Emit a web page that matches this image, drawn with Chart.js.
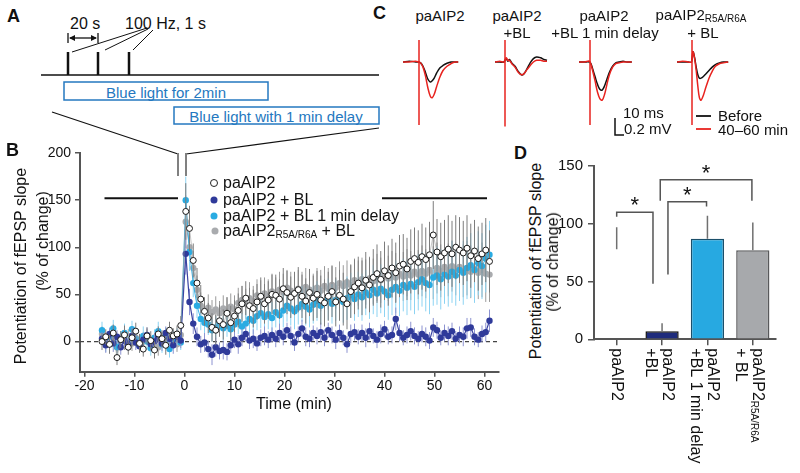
<!DOCTYPE html>
<html>
<head>
<meta charset="utf-8">
<script src="https://cdn.jsdelivr.net/npm/chart.js"></script>
<style>
  body { margin: 0; width: 800px; height: 473px; position: relative; overflow: hidden; background: #fff;
         font-family: "Liberation Sans", Arial, sans-serif; color: #111; }
  canvas, svg { position: absolute; }
  .t { position: absolute; line-height: 1; white-space: nowrap; transform: translateY(-50%); }
  .c { position: absolute; line-height: 1; white-space: nowrap; transform: translate(-50%, -50%); }
  .rot { position: absolute; line-height: 1; white-space: nowrap; transform: translate(-50%, -50%) rotate(-90deg); font-size: 16px; }
  .lt { font-weight: bold; font-size: 18px; }
  .blue { color: #2478c0; font-size: 15px; }
  sub { font-size: 10px; vertical-align: -2px; }
  .dot { position: absolute; width: 7px; height: 7px; border-radius: 50%; transform: translate(-50%, -50%); }
</style>
</head>
<body>

<svg width="800" height="473" style="left:0;top:0">
  <g stroke="#111" fill="none" stroke-width="1.3">
    <line x1="41" y1="75" x2="379" y2="75"/>
    <line x1="68" y1="52" x2="68" y2="75" stroke-width="2.5"/>
    <line x1="98" y1="52" x2="98" y2="75" stroke-width="2.5"/>
    <line x1="129" y1="52" x2="129" y2="75" stroke-width="2.5"/>
    <line x1="68" y1="33" x2="68" y2="43"/>
    <line x1="98" y1="33" x2="98" y2="43"/>
    <line x1="70" y1="38" x2="96" y2="38"/>
    <line x1="72" y1="52" x2="147" y2="28" stroke-width="1"/>
    <line x1="105" y1="50" x2="148" y2="29" stroke-width="1"/>
    <line x1="133" y1="50" x2="153" y2="30" stroke-width="1"/>
    <line x1="52" y1="112" x2="178" y2="154" stroke-width="1.2"/>
    <line x1="379" y1="128" x2="186" y2="154" stroke-width="1.2"/>
    <path d="M615 118 V135 H624" stroke-width="1.5"/>
    <line x1="696" y1="116" x2="711" y2="116" stroke-width="1.8"/>
    <line x1="696" y1="129" x2="711" y2="129" stroke="#e8231f" stroke-width="1.8"/>
  </g>
  <polygon points="69,38 75,35 75,41" fill="#111"/>
  <polygon points="97,38 91,35 91,41" fill="#111"/>
  <g stroke="#808080" stroke-width="2">
    <line x1="178" y1="153" x2="178" y2="176"/>
    <line x1="186" y1="153" x2="186" y2="176"/>
  </g>
  <rect x="64" y="82" width="204" height="18" fill="none" stroke="#2478c0" stroke-width="1.5"/>
  <rect x="174" y="107" width="205" height="17" fill="none" stroke="#2478c0" stroke-width="1.5"/>
</svg>

<canvas id="chartB" width="510" height="280" style="left:0px;top:140px"></canvas>
<canvas id="chartD" width="245" height="333" style="left:555px;top:140px"></canvas>
<canvas id="trace1" width="75" height="100" style="left:403px;top:35px"></canvas>
<canvas id="trace2" width="75" height="100" style="left:495px;top:35px"></canvas>
<canvas id="trace3" width="75" height="100" style="left:579px;top:35px"></canvas>
<canvas id="trace4" width="75" height="100" style="left:677px;top:35px"></canvas>

<!-- panel letters -->
<div class="t lt" style="left:7px;top:16px">A</div>
<div class="t lt" style="left:6px;top:150px">B</div>
<div class="t lt" style="left:373px;top:13px">C</div>
<div class="t lt" style="left:514px;top:153px">D</div>

<!-- panel A -->
<div class="t" style="left:70px;top:24px;font-size:16px">20 s</div>
<div class="t" style="left:125px;top:24px;font-size:16px">100 Hz, 1 s</div>
<div class="c blue" style="left:166px;top:91.5px">Blue light for 2min</div>
<div class="c blue" style="left:276px;top:116px">Blue light with 1 min delay</div>

<!-- panel B -->
<div class="rot" style="left:21px;top:266px">Potentiation of fEPSP slope</div>
<div class="rot" style="left:43px;top:241px">(% of change)</div>
<div class="c" style="left:294px;top:404px;font-size:16px">Time (min)</div>
<div class="dot" style="left:214px;top:183px;background:#fff;border:1px solid #222;width:6px;height:6px"></div>
<div class="dot" style="left:214px;top:200px;background:#2f3a9a"></div>
<div class="dot" style="left:214px;top:216px;background:#29abe2"></div>
<div class="dot" style="left:215px;top:231px;background:#a9abae"></div>
<div class="t" style="left:223px;top:183px;font-size:16px">paAIP2</div>
<div class="t" style="left:223px;top:200px;font-size:16px">paAIP2 + BL</div>
<div class="t" style="left:223px;top:216px;font-size:16px">paAIP2 + BL 1 min delay</div>
<div class="t" style="left:223px;top:231px;font-size:16px">paAIP2<sub>R5A/R6A</sub> + BL</div>

<!-- panel C -->
<div class="c" style="left:440px;top:15px;font-size:15px">paAIP2</div>
<div class="c" style="left:517px;top:15px;font-size:15px">paAIP2</div>
<div class="c" style="left:517px;top:32px;font-size:15px">+BL</div>
<div class="c" style="left:604px;top:15px;font-size:15px">paAIP2</div>
<div class="c" style="left:605px;top:32px;font-size:15px">+BL 1 min delay</div>
<div class="c" style="left:701px;top:15px;font-size:15px">paAIP2<sub>R5A/R6A</sub></div>
<div class="c" style="left:703px;top:32px;font-size:15px">+ BL</div>
<div class="t" style="left:623px;top:112px;font-size:15px">10 ms</div>
<div class="t" style="left:624px;top:128px;font-size:15px">0.2 mV</div>
<div class="t" style="left:718px;top:115px;font-size:15px">Before</div>
<div class="t" style="left:718px;top:129px;font-size:15px">40–60 min</div>

<!-- panel D -->
<div class="rot" style="left:536px;top:261px">Potentiation of fEPSP slope</div>
<div class="rot" style="left:553px;top:262px">(% of change)</div>

<script>
// ---- panel B: time course (min) and potentiation (% of change) ----
const timeMin = [
  -16.5,-15.75,-15,-14.25,-13.5,-12.75,-12,-11.25,-10.5,-9.75,-9,-8.25,-7.5,-6.75,-6,-5.25,-4.5,-3.75,-3,-2.25,-1.5,-0.75,
  0.25,1,1.75,2.5,3.25,4,4.75,5.5,6.25,7,7.75,8.5,9.25,10,10.75,11.5,12.25,13,13.75,14.5,15.25,16,16.75,17.5,18.25,19,
  19.75,20.5,21.25,22,22.75,23.5,24.25,25,25.75,26.5,27.25,28,28.75,29.5,30.25,31,31.75,32.5,33.25,34,34.75,35.5,36.25,
  37,37.75,38.5,39.25,40,40.75,41.5,42.25,43,43.75,44.5,45.25,46,46.75,47.5,48.25,49,49.75,50.5,51.25,52,52.75,53.5,
  54.25,55,55.75,56.5,57.25,58,58.75,59.5,60.25,61
];

const potPaAIP2 = [
  0,5,-3,9,-17,2,7,-6,4,11, -2,-8,6,1,-9,8,3,-4,12,6, 8,17,
  138,120,86,62,45,32,25,15,12,22, 18,30,20,27,33,40,46,38,35,42,
  48,40,44,50,49,45,56,52,47,51, 55,48,43,52,46,50,44,41,48,53,
  42,49,45,40,53,58,62,57,65,60, 68,72,66,75,70,78,73,80,82,77,
  85,88,84,90,87,92,113,95,90,94, 98,93,100,97,94,99,91,96,88,93,
  97,85
];
const semPaAIP2 = [
  9,8,10,9,8,9,10,8,9,9, 10,8,9,10,9,8,9,10,9,8, 9,10,
  30,24,18,16,15,15,16,15,16,17, 16,17,18,17,18,19,18,19,20,19,
  20,21,20,21,22,21,22,23,22,23, 24,23,24,25,24,25,26,25,26,27,
  26,27,28,27,28,29,28,29,30,29, 30,31,30,31,32,31,32,33,32,33,
  34,33,34,35,34,35,36,35,36,35, 36,35,34,35,34,35,34,33,34,33,
  34,33
];

const potBL = [
  3,-4,8,-2,5,-6,1,-3,6,-1, -5,2,7,-3,0,4,-2,9,3,-4, 5,1,
  93,42,19,5,-3,-1,-8,-14,-6,-10, -9,-11,-4,2,-3,4,8,1,3,-2,
  4,6,2,7,3,9,5,12,6,-1, 8,14,5,3,9,6,10,4,12,7,
  2,9,4,-3,8,10,5,9,4,11, 6,2,8,13,5,7,24,9,4,7,
  11,6,3,8,5,1,15,12,4,9, 6,11,3,7,5,14,15,5,2,8,
  10,22
];
const semBL = [
  7,8,6,9,7,8,6,7,9,8, 6,7,8,7,9,6,8,7,8,9, 7,8,
  22,14,11,10,9,10,9,11,10,9, 10,9,8,9,10,9,8,9,10,8,
  9,10,9,8,9,10,9,8,10,9, 8,9,10,9,8,9,10,9,8,9,
  10,9,8,9,10,9,8,9,10,9, 8,9,10,9,8,9,12,9,8,9,
  10,9,8,9,10,9,10,9,8,9, 10,9,8,9,10,11,10,9,8,9,
  10,12
];

const potDelay = [
  12,-3,5,14,-6,2,9,-2,13,3, -4,6,0,-7,4,11,-3,7,-8,2, 5,-1,
  150,95,62,38,24,20,18,12,15,20, 14,17,13,18,21,16,19,24,22,27,
  30,26,29,25,31,28,33,38,35,32, 36,40,37,34,39,43,38,41,45,40,
  44,47,42,46,49,45,50,47,52,49, 55,51,56,53,49,55,58,54,60,57,
  61,58,63,66,62,60,68,70,66,71, 69,74,70,76,73,78,81,76,83,80,
  88,92
];
const semDelay = [
  9,8,10,9,8,9,10,8,9,9, 8,10,9,8,9,10,9,8,9,10, 9,8,
  25,20,15,13,12,12,11,12,12,13, 13,12,13,14,13,14,14,15,14,15,
  16,15,16,17,16,17,18,17,18,19, 18,19,20,19,20,21,20,21,22,21,
  22,23,22,23,24,23,24,25,24,25, 26,25,26,27,26,27,28,27,28,29,
  28,29,30,29,30,31,30,31,32,31, 32,33,32,33,34,33,34,35,34,35,
  36,36
];

const potMutant = [
  8,2,-3,5,-5,3,0,6,-2,4, -4,1,5,-1,3,-6,2,6,0,4, -3,7,
  127,100,78,55,38,33,36,31,34,30, 35,32,37,34,41,44,40,46,43,49,
  47,51,48,53,50,55,52,57,54,51, 56,53,58,55,52,57,54,59,56,60,
  57,62,59,63,60,65,62,66,63,67, 64,68,65,70,67,71,68,72,69,73,
  70,74,71,75,72,76,73,78,75,79, 76,80,77,79,75,78,74,77,73,76,
  72,71
];
const semMutant = [
  8,7,9,8,7,8,9,7,8,8, 7,9,8,7,8,9,8,7,9,8, 8,7,
  28,22,18,15,14,13,14,13,14,13, 14,15,14,15,16,15,16,17,16,17,
  18,17,18,19,18,19,20,19,20,19, 20,21,20,21,20,21,22,21,22,21,
  22,23,22,23,22,23,24,23,24,23, 24,25,24,25,24,25,26,25,26,25,
  26,27,26,27,26,27,28,27,28,27, 28,27,28,29,28,29,28,29,28,29,
  30,29
];

const xTicksB = [-20, -10, 0, 10, 20, 30, 40, 50, 60];
const yTicksB = [0, 50, 100, 150, 200];
const periodBars = [[-16, -1.3], [39.5, 60.5]];   // baseline and 40-60 min windows
const periodLevel = 152;

// ---- panel D: mean potentiation 40-60 min ----
const groups = ['paAIP2', 'paAIP2|+BL', 'paAIP2|+BL 1 min delay', 'paAIP2_R5A/R6A|+ BL'];
const meanPot = [0, 7, 87, 77];
const errLow = [78, 7, 87, 77];
const errHigh = [97, 14, 107, 101];
const yTicksD = [0, 50, 100, 150];
const brackets = [
  { from: 0, to: 0.8, top: 110, endFrom: 106, endTo: 48 },
  { from: 1.13, to: 1.98, top: 119, endFrom: 56, endTo: 115 },
  { from: 0.96, to: 2.98, top: 138, endFrom: 120, endTo: 120 }
];

// ---- panel C: example fEPSPs (ms, mV) ----
const traceTime = [
  [0, 8, 16, 19.5, 22, 25, 28, 31, 34, 36.5, 39, 42, 46, 50, 55, 60, 65, 69],
  [0, 6, 11, 14, 16, 18, 21, 25, 29, 33, 36, 40, 44, 48, 52, 57, 61, 65],
  [0, 7, 13, 15, 17, 20, 23, 26, 29, 32, 35, 38, 42, 46, 50, 55, 60, 66],
  [0, 7, 14, 18, 20, 22, 24, 26, 28, 30, 33, 36, 40, 44, 48, 53, 58, 64]
];
const traceBefore = [
  [0, 0.01, 0, 0, -0.01, -0.05, -0.12, -0.2, -0.235, -0.22, -0.19, -0.13, -0.07, -0.04, -0.015, 0, 0, 0],
  [0, 0, 0, 0.04, 0.01, 0.03, -0.01, -0.05, -0.11, -0.15, -0.14, -0.08, -0.01, 0.04, 0.06, 0.05, 0.03, 0.02],
  [0, 0, 0, -0.02, -0.08, -0.17, -0.26, -0.32, -0.33, -0.28, -0.2, -0.12, -0.05, -0.01, 0, 0.01, 0, 0],
  [0, 0, 0, 0, 0.12, 0.05, -0.06, -0.15, -0.19, -0.19, -0.17, -0.14, -0.1, -0.06, -0.03, -0.01, 0, 0]
];
const traceAfter = [
  [0, 0, 0.01, 0, -0.01, -0.06, -0.16, -0.3, -0.4, -0.42, -0.38, -0.29, -0.18, -0.1, -0.05, -0.02, 0, 0],
  [0, 0.01, 0, 0.05, 0.02, 0.02, -0.02, -0.06, -0.12, -0.15, -0.14, -0.09, -0.04, 0, 0.02, 0.02, 0.01, 0.01],
  [0, 0, 0.01, -0.03, -0.1, -0.22, -0.35, -0.43, -0.45, -0.38, -0.26, -0.15, -0.06, -0.02, -0.01, 0, 0, 0],
  [0, 0.01, 0, 0, 0.12, 0.04, -0.1, -0.28, -0.42, -0.45, -0.39, -0.3, -0.19, -0.11, -0.05, -0.02, -0.01, 0]
];
const artifactTime = [20, 12.5, 13.75, 18.75];
const artifactTop = [0.26, 0.26, 0.26, 0.26];
const artifactBottom = [-0.74, -0.76, -0.74, -0.74];

Chart.defaults.font.family = '"Liberation Sans", Arial, sans-serif';
Chart.defaults.color = '#111';

function series(vals) {
  return timeMin.map((t, i) => ({ x: t, y: vals[i] }));
}

const bExtras = {
  id: 'bExtras',
  beforeDatasetsDraw(chart) {
    const { ctx, chartArea: a, scales: { y } } = chart;
    const y0 = y.getPixelForValue(0);
    ctx.save();
    ctx.setLineDash([4, 3]);
    ctx.strokeStyle = '#444';
    ctx.lineWidth = 1.2;
    ctx.beginPath();
    ctx.moveTo(a.left, y0);
    ctx.lineTo(a.right, y0);
    ctx.stroke();
    ctx.restore();
  },
  beforeDatasetDraw(chart, args) {
    const ds = chart.data.datasets[args.index];
    const { ctx, scales: { x, y } } = chart;
    ctx.save();
    ctx.strokeStyle = ds.errColor;
    ctx.lineWidth = 1;
    ctx.beginPath();
    ds.data.forEach((p, i) => {
      const px = x.getPixelForValue(p.x);
      ctx.moveTo(px, y.getPixelForValue(p.y - ds.sem[i]));
      ctx.lineTo(px, y.getPixelForValue(p.y + ds.sem[i]));
    });
    ctx.stroke();
    ctx.restore();
  },
  afterDatasetsDraw(chart) {
    const { ctx, scales: { x, y } } = chart;
    ctx.save();
    ctx.strokeStyle = '#111';
    ctx.lineWidth = 2;
    periodBars.forEach(([a, b]) => {
      ctx.beginPath();
      ctx.moveTo(x.getPixelForValue(a), y.getPixelForValue(periodLevel));
      ctx.lineTo(x.getPixelForValue(b), y.getPixelForValue(periodLevel));
      ctx.stroke();
    });
    ctx.restore();
  }
};

const axisStyle = {
  grid: { drawOnChartArea: false, drawTicks: true, tickLength: 5, color: '#555', lineWidth: 1.5 },
  border: { color: '#555', width: 2 }
};

new Chart(document.getElementById('chartB'), {
  type: 'scatter',
  data: {
    datasets: [
      { label: 'paAIP2', data: series(potPaAIP2), sem: semPaAIP2, errColor: '#7c7c7c',
        showLine: true, borderColor: '#a0a0a0', borderWidth: 0.6, pointRadius: 3,
        pointBackgroundColor: '#fff', pointBorderColor: '#1a1a1a', pointBorderWidth: 1 },
      { label: 'paAIP2 + BL', data: series(potBL), sem: semBL, errColor: '#8c92d0',
        showLine: true, borderColor: '#3b44a3', borderWidth: 1.2, pointRadius: 3.2,
        pointBackgroundColor: '#2f3a9a', pointBorderColor: '#2f3a9a', pointBorderWidth: 0 },
      { label: 'paAIP2 + BL 1 min delay', data: series(potDelay), sem: semDelay, errColor: '#8dd3f2',
        showLine: true, borderColor: '#3ab0e4', borderWidth: 1, pointRadius: 3.2,
        pointBackgroundColor: '#29abe2', pointBorderColor: '#29abe2', pointBorderWidth: 0 },
      { label: 'paAIP2R5A/R6A + BL', data: series(potMutant), sem: semMutant, errColor: '#9a9a9a',
        showLine: true, borderColor: '#a0a0a0', borderWidth: 1, pointRadius: 3.2,
        pointBackgroundColor: '#a9abae', pointBorderColor: '#a9abae', pointBorderWidth: 0 }
    ]
  },
  options: {
    responsive: false,
    animation: false,
    events: [],
    layout: { padding: { top: 13, right: 11, left: 0, bottom: 0 } },
    plugins: { legend: { display: false }, tooltip: { enabled: false } },
    scales: {
      x: {
        type: 'linear', min: -20.9, max: 62.9,
        afterBuildTicks: s => { s.ticks = xTicksB.map(v => ({ value: v })); },
        afterFit: s => { s.height = 48.3; },
        ticks: { font: { size: 14 }, padding: 1, maxRotation: 0 },
        ...axisStyle
      },
      y: {
        min: -32, max: 200,
        afterBuildTicks: s => { s.ticks = yTicksB.map(v => ({ value: v })); },
        afterFit: s => { s.width = 80; },
        ticks: { font: { size: 14 }, padding: 4 },
        ...axisStyle
      }
    }
  },
  plugins: [bExtras]
});

const dExtras = {
  id: 'dExtras',
  afterDatasetsDraw(chart) {
    const { ctx, scales: { x, y } } = chart;
    ctx.save();
    ctx.strokeStyle = '#707070';
    ctx.lineWidth = 1.5;
    ctx.beginPath();
    errHigh.forEach((h, i) => {
      const px = x.getPixelForValue(i);
      ctx.moveTo(px, y.getPixelForValue(errLow[i]));
      ctx.lineTo(px, y.getPixelForValue(h));
    });
    ctx.stroke();
    ctx.strokeStyle = '#555';
    ctx.fillStyle = '#111';
    ctx.font = '22px "Liberation Sans", Arial';
    ctx.textAlign = 'center';
    ctx.textBaseline = 'middle';
    brackets.forEach(b => {
      const x1 = x.getPixelForValue(b.from), x2 = x.getPixelForValue(b.to);
      ctx.beginPath();
      ctx.moveTo(x1, y.getPixelForValue(b.endFrom));
      ctx.lineTo(x1, y.getPixelForValue(b.top));
      ctx.lineTo(x2, y.getPixelForValue(b.top));
      ctx.lineTo(x2, y.getPixelForValue(b.endTo));
      ctx.stroke();
      ctx.fillText('*', (x1 + x2) / 2, y.getPixelForValue(b.top) - 6);
    });
    ctx.restore();
  },
  afterDraw(chart) {
    const { ctx, scales: { x, y } } = chart;
    const top = y.getPixelForValue(0) + 9;
    ctx.save();
    ctx.fillStyle = '#111';
    ctx.textAlign = 'left';
    ctx.textBaseline = 'middle';
    groups.forEach((g, i) => {
      const lines = g.split('|');
      const offs = lines.length === 1 ? [0] : [5, -12];
      ctx.save();
      ctx.translate(x.getPixelForValue(i), top);
      ctx.rotate(Math.PI / 2);
      lines.forEach((ln, k) => {
        const [main, sub] = ln.split('_');
        ctx.font = '16px "Liberation Sans", Arial';
        ctx.fillText(main, 0, -offs[k]);
        if (sub) {
          const w = ctx.measureText(main).width;
          ctx.font = '10px "Liberation Sans", Arial';
          ctx.fillText(sub, w, -offs[k] + 4);
        }
      });
      ctx.restore();
    });
    ctx.restore();
  }
};

new Chart(document.getElementById('chartD'), {
  type: 'bar',
  data: {
    labels: groups,
    datasets: [{
      data: meanPot,
      backgroundColor: ['#ffffff', '#1f2c7c', '#27a9e1', '#a7a9ac'],
      borderColor: ['#ffffff', '#111111', '#1b4f6a', '#58595b'],
      borderWidth: [0, 1.5, 1.5, 1.5],
      borderSkipped: 'bottom',
      categoryPercentage: 1,
      barPercentage: 0.733
    }]
  },
  options: {
    responsive: false,
    animation: false,
    events: [],
    layout: { padding: { top: 26, right: 24.5, left: 0, bottom: 0 } },
    plugins: { legend: { display: false }, tooltip: { enabled: false } },
    scales: {
      x: {
        afterFit: s => { s.height = 133.7; },
        ticks: { display: false },
        grid: { offset: false, drawOnChartArea: false, drawTicks: true, tickLength: 6, color: '#555', lineWidth: 1.5 },
        border: { color: '#555', width: 2 }
      },
      y: {
        min: 0, max: 150,
        afterBuildTicks: s => { s.ticks = yTicksD.map(v => ({ value: v })); },
        afterFit: s => { s.width = 39; },
        ticks: { font: { size: 15 }, padding: 5 },
        grid: { drawOnChartArea: false, drawTicks: true, tickLength: 6, color: '#555', lineWidth: 1.5 },
        border: { color: '#555', width: 2 }
      }
    }
  },
  plugins: [dExtras]
});

function pairs(ts, vs) {
  return ts.map((t, i) => ({ x: t, y: vs[i] }));
}

for (let k = 0; k < 4; k++) {
  new Chart(document.getElementById('trace' + (k + 1)), {
    type: 'scatter',
    data: {
      datasets: [
        { data: [{ x: artifactTime[k], y: artifactTop[k] }, { x: artifactTime[k], y: artifactBottom[k] }],
          showLine: true, borderColor: '#e8231f', borderWidth: 1.5, pointRadius: 0, tension: 0 },
        { data: pairs(traceTime[k], traceAfter[k]), showLine: true, borderColor: '#e8231f',
          borderWidth: 1.5, pointRadius: 0, tension: 0.35 },
        { data: pairs(traceTime[k], traceBefore[k]), showLine: true, borderColor: '#111',
          borderWidth: 1.5, pointRadius: 0, tension: 0.35 }
      ]
    },
    options: {
      responsive: false,
      animation: false,
      events: [],
      layout: { padding: 0 },
      plugins: { legend: { display: false }, tooltip: { enabled: false } },
      scales: {
        x: { type: 'linear', min: 0, max: 93.75, display: false },
        y: { min: -0.859, max: 0.318, display: false }
      }
    }
  });
}
</script>
</body>
</html>
